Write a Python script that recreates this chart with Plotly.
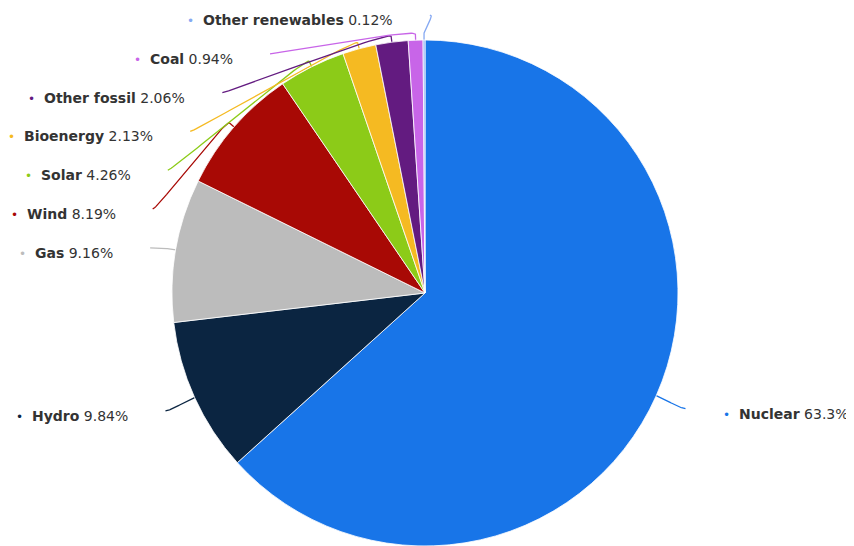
import numpy as np
import plotly.graph_objects as go

# ---- data ----
labels = ["Nuclear", "Hydro", "Gas", "Wind", "Solar", "Bioenergy",
          "Other fossil", "Coal", "Other renewables"]
values = [63.3, 9.84, 9.16, 8.19, 4.26, 2.13, 2.06, 0.94, 0.12]
value_text = ["63.3%", "9.84%", "9.16%", "8.19%", "4.26%", "2.13%",
              "2.06%", "0.94%", "0.12%"]
colors = ["#1875e8", "#0b2541", "#bcbcbc", "#a80905", "#8ccb18",
          "#f5ba22", "#631b80", "#c865e8", "#86a9f2"]

# page body has an 8px margin: figure is offset by (8, 8) on screen
OFF = 8
W, H = 854 - OFF, 546 - OFF
CX = 425.0            # screen coords
R_DESIRED = 253.0
dom_x = [(CX - OFF - R_DESIRED) / W, (CX - OFF + R_DESIRED) / W]
dom_y = [0.0, 2 * R_DESIRED / H]
R = min((dom_x[1] - dom_x[0]) * W, (dom_y[1] - dom_y[0]) * H) / 2.0
CY = OFF + H - (dom_y[0] + dom_y[1]) / 2.0 * H
LABEL_DIST = 32.0
RL = R + LABEL_DIST
SPACING = 38.8
YMIN = 15.0
CONN_OFF = 6.0

fig = go.Figure()
fig.add_trace(go.Pie(
    labels=labels, values=values, sort=False, direction="clockwise",
    rotation=0, textinfo="none", hoverinfo="label+percent",
    marker=dict(colors=colors, line=dict(color="white", width=0.8)),
    domain=dict(x=dom_x, y=dom_y), showlegend=False,
))

# label layout (computed from the values)
vals = np.array(values, dtype=float)
frac = vals / vals.sum()
start = np.concatenate([[0], np.cumsum(frac)[:-1]])
mid = (start + frac / 2) * 2 * np.pi
sx, sy = np.sin(mid), -np.cos(mid)
nat_x = CX + RL * sx
nat_y = CY + RL * sy

final_y = nat_y.copy()
final_x = nat_x.copy()
for side in (-1, 1):
    idx = [i for i in range(len(vals)) if np.sign(sx[i]) == side]
    idx.sort(key=lambda i: nat_y[i])
    prev = None
    for i in idx:
        y = max(nat_y[i], YMIN) if prev is None else max(nat_y[i], prev + SPACING)
        final_y[i] = y
        prev = y
    for i in idx:
        if abs(final_y[i] - nat_y[i]) >= 10:
            dy = final_y[i] - CY
            final_x[i] = CX + side * np.sqrt(max(RL ** 2 - dy ** 2, 0))
        elif final_y[i] != nat_y[i]:
            final_x[i] = nat_x[i] - side * 6


def bezier(p0, p1, p2, p3, n=40):
    t = np.linspace(0, 1, n)[:, None]
    return ((1 - t) ** 3) * p0 + 3 * ((1 - t) ** 2) * t * p1 + 3 * (1 - t) * t ** 2 * p2 + t ** 3 * p3


for i in range(len(vals)):
    left = sx[i] < 0
    touch = np.array([CX + R * sx[i], CY + R * sy[i]])
    brk = touch + CONN_OFF * np.array([sx[i], sy[i]])
    ctrl2 = 2 * brk - touch
    lab = np.array([final_x[i], final_y[i]])
    ctrl1 = lab + np.array([5.0 if left else -5.0, 0.0])
    pts = bezier(lab, ctrl1, ctrl2, brk)
    pts = np.vstack([pts, touch])
    fig.add_trace(go.Scatter(
        x=pts[:, 0], y=pts[:, 1], mode="lines",
        line=dict(color=colors[i], width=1.3), hoverinfo="skip",
        showlegend=False, xaxis="x", yaxis="y",
    ))
    txt = (f"<span style='font-size:12px;color:{colors[i]}'>•</span>  "
           f"<b>{labels[i]}</b> {value_text[i]}")
    fig.add_annotation(
        x=final_x[i] + (-35 if left else 36), y=final_y[i] + 5,
        xref="x", yref="y", text=txt, showarrow=False,
        xanchor="right" if left else "left", yanchor="middle",
        font=dict(family="DejaVu Sans", size=14, color="#333333"),
    )

fig.update_layout(
    width=W, height=H, margin=dict(l=0, r=0, t=0, b=0),
    paper_bgcolor="white", plot_bgcolor="white", showlegend=False,
    xaxis=dict(range=[OFF, OFF + W], visible=False, fixedrange=True),
    yaxis=dict(range=[OFF + H, OFF], visible=False, fixedrange=True),
)

fig.write_html("out.html")
